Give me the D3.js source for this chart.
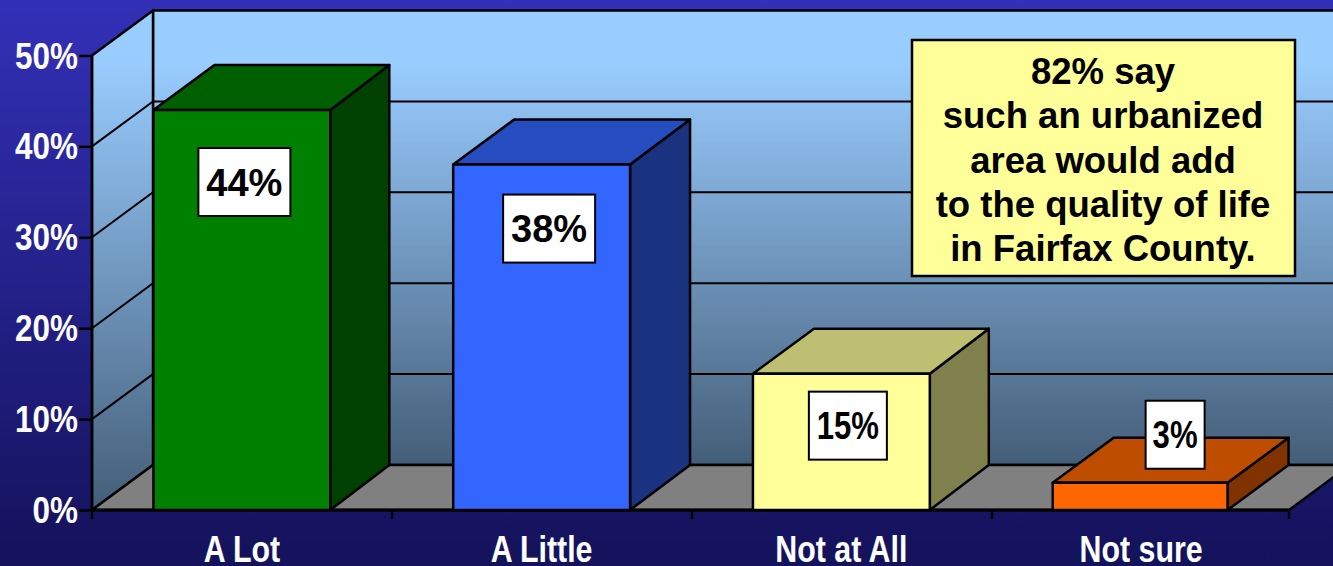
<!DOCTYPE html>
<html><head><meta charset="utf-8">
<script src="https://cdn.jsdelivr.net/npm/d3@7"></script>
<style>html,body{margin:0;padding:0;background:#16145a;overflow:hidden}svg{display:block}text{font-family:"Liberation Sans",Arial,sans-serif;font-weight:bold}</style>
</head><body><svg id="c" width="1333" height="566"></svg>
<script>
const categories = ["A Lot","A Little","Not at All","Not sure"];
const values = [44,38,15,3];
const valueLabels = ["44%","38%","15%","3%"];
const yTickValues = [0,10,20,30,40,50];
const yTickLabels = ["0%","10%","20%","30%","40%","50%"];
const barColors = ["#008000","#3366ff","#ffff99","#ff6600"];
const noteLines = ["82% say","such an urbanized","area would add","to the quality of life","in Fairfax County."];

// layout (hand-placed data label boxes, relative to the bar's front-top centre)
const W=1333,H=566, dx=61, dy=45;
const labelBox=[{ox:2.5,oy:72,w:92,sx:1},{ox:7.5,oy:64,w:92,sx:1},{ox:6.5,oy:52,w:78,sx:.82},{ox:34,oy:-48,w:59,sx:.82}];
const barTrim=[0,0,0,2], barDepth=[59,60,59,61];
const svg=d3.select("#c");
const x=d3.scaleBand().domain(categories).range([92,1291]).paddingInner(0.41).paddingOuter(0.205);
const y=d3.scaleLinear().domain([0,50]).range([510,55.5]);
const x0=92,x1=1289;
const defs=svg.append("defs");
function grad(id,stops,y1,y2){const g=defs.append("linearGradient").attr("id",id).attr("gradientUnits","userSpaceOnUse").attr("x1",0).attr("x2",0).attr("y1",y1).attr("y2",y2);
 stops.forEach(s=>g.append("stop").attr("offset",s[0]).attr("stop-color",s[1]));}
grad("bg",[[0,"#3330b8"],[1,"#14125a"]],0,566);
grad("wall",[[0,"#99ccff"],[0.12,"#99ccff"],[1,"#445e78"]],10,465);
grad("side",[[0,"#99ccff"],[0.1,"#99ccff"],[1,"#445e78"]],10,510);
svg.append("rect").attr("width",W).attr("height",H).attr("fill","url(#bg)");
const line=d3.line();
const poly=(pts,fill,sw=3)=>svg.append("path").attr("d",line(pts)+"Z").attr("fill",fill).attr("stroke","#000").attr("stroke-width",sw).attr("stroke-linejoin","round");
// back wall, side wall, floor
poly([[x0+dx,y(50)-dy],[x1+dx+5,y(50)-dy],[x1+dx+5,y(0)-dy],[x0+dx,y(0)-dy]],"url(#wall)",2.5);
poly([[x0,y(50)],[x0+dx,y(50)-dy],[x0+dx,y(0)-dy],[x0,y(0)]],"url(#side)",2.5);
poly([[x0,y(0)],[x0+dx,y(0)-dy],[x1+dx,y(0)-dy],[x1,y(0)]],"#808080",2.5);
// gridlines
yTickValues.slice(1,5).forEach(v=>{
 svg.append("path").attr("d",line([[x0,y(v)],[x0+dx,y(v)-dy],[W+5,y(v)-dy]])).attr("fill","none").attr("stroke","#000").attr("stroke-width",2);
});
// axes
const yAxis=d3.axisLeft(y).tickValues(yTickValues).tickFormat((d,i)=>yTickLabels[i]).tickSize(13).tickPadding(0);
const gy=svg.append("g").attr("transform",`translate(${x0},0)`).call(yAxis);
gy.select(".domain").attr("stroke","#000").attr("stroke-width",2.5).attr("d",`M0,${y(50)}V${y(0)}`);
gy.selectAll(".tick line").attr("stroke","#000").attr("stroke-width",2.5);
gy.selectAll(".tick text")
 .attr("fill","#fff").attr("font-size",37).attr("text-anchor","end").attr("dy",0).attr("y",12.5).attr("x",0)
 .attr("transform","translate(-14,0) scale(0.85,1)");
const xTicks=[0,1,2,3].map(i=>x0+i*300).concat([x1]);
svg.selectAll(".xt").data(xTicks).join("line").attr("class","xt").attr("x1",d=>d).attr("x2",d=>d).attr("y1",510).attr("y2",519).attr("stroke","#000").attr("stroke-width",2.5);
svg.append("line").attr("x1",x0).attr("x2",x1).attr("y1",510).attr("y2",510).attr("stroke","#000").attr("stroke-width",3);
svg.selectAll(".xl").data(categories).join("text").attr("class","xl")
 .attr("transform",d=>`translate(${x(d)+x.bandwidth()/2},562) scale(0.82,1)`)
 .attr("text-anchor","middle").attr("fill","#fff").attr("font-size",37).text(d=>d);
// bars
categories.forEach((c,i)=>{
 const l=x(c),r=l+x.bandwidth()-barTrim[i],t=y(values[i]),b=y(0),col=d3.rgb(barColors[i]),d=barDepth[i];
 const sh=k=>d3.rgb(col.r*k,col.g*k,col.b*k).formatHex();
 poly([[r,t],[r+d,t-dy],[r+d,b-dy],[r,b]],sh(.5),2.5);
 poly([[l,t],[l+dx,t-dy],[r+d,t-dy],[r,t]],sh(.75),2.5);
 poly([[l,t],[r,t],[r,b],[l,b]],sh(1),2.5);
});
// value label boxes
categories.forEach((c,i)=>{
 const lb=labelBox[i],cx=x(c)+x.bandwidth()/2+lb.ox,cy=y(values[i])+lb.oy;
 svg.append("rect").attr("x",cx-lb.w/2).attr("y",cy-34).attr("width",lb.w).attr("height",68).attr("fill","#fff").attr("stroke","#000").attr("stroke-width",2);
 svg.append("text").attr("transform",`translate(${cx},${cy+13.5}) scale(${lb.sx},1)`).attr("text-anchor","middle").attr("font-size",38).attr("fill","#000").text(valueLabels[i]);
});
// note
svg.append("rect").attr("x",912).attr("y",40).attr("width",383).attr("height",236).attr("fill","#ffff99").attr("stroke","#000").attr("stroke-width",2.5);
svg.selectAll(".n").data(noteLines).join("text").attr("class","n").attr("x",1103).attr("y",(d,i)=>84+i*44.25)
 .attr("text-anchor","middle").attr("font-size",36.5).attr("fill","#000").text(d=>d);
</script></body></html>
